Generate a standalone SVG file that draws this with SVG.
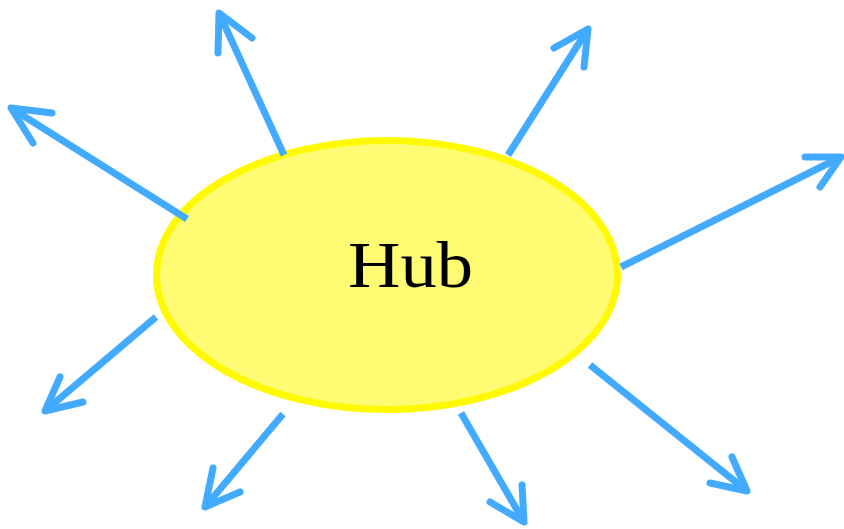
<svg xmlns="http://www.w3.org/2000/svg" width="844" height="529" viewBox="0 0 844 529">
  <style>
    .spoke { fill: none; stroke: #42abff; stroke-width: 7; }
    .head { fill: none; stroke: #42abff; stroke-width: 7; stroke-linecap: round; stroke-linejoin: round; }
    .hub { fill: #fffc74; stroke: #fffa00; stroke-width: 7; }
    .label { font-family: "Liberation Serif", "DejaVu Serif", serif; font-size: 66px; fill: #000; }
  </style>
  <rect width="844" height="529" fill="#ffffff"/>
  <g id="hub">
    <ellipse class="hub" cx="387" cy="275" rx="230.5" ry="134.5"/>
    <text class="label" x="410.5" y="287" text-anchor="middle" textLength="125" lengthAdjust="spacingAndGlyphs">Hub</text>
  </g>
  <g id="connectors">
    <line class="spoke" x1="284" y1="155" x2="219" y2="13"/>
    <polyline class="head" points="218,53 219,13 252,38"/>
    <line class="spoke" x1="187" y1="219" x2="11" y2="108"/>
    <polyline class="head" points="52,113 11,108 33,143"/>
    <line class="spoke" x1="508" y1="155" x2="588" y2="29"/>
    <polyline class="head" points="554,48 588,29 584,67"/>
    <line class="spoke" x1="621" y1="267" x2="841" y2="157"/>
    <polyline class="head" points="805,157 841,157 820,187"/>
    <line class="spoke" x1="156" y1="317" x2="45" y2="411"/>
    <polyline class="head" points="60,377 45,411 83,402"/>
    <line class="spoke" x1="283" y1="414" x2="205" y2="507"/>
    <polyline class="head" points="213,468 205,507 240,492"/>
    <line class="spoke" x1="461" y1="413" x2="524" y2="522"/>
    <polyline class="head" points="522,485 524,522 490,502"/>
    <line class="spoke" x1="590" y1="365" x2="747" y2="491"/>
    <polyline class="head" points="732,457 747,491 710,483"/>
  </g>
</svg>
